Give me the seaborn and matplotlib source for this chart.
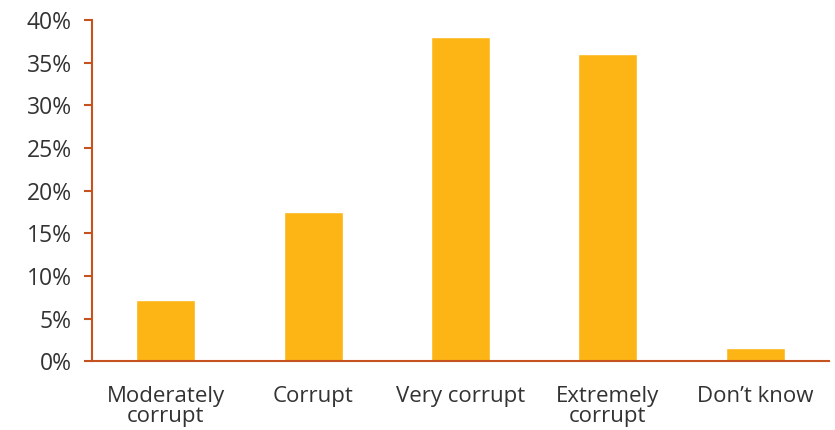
import pandas as pd
import matplotlib.pyplot as plt
import seaborn as sns
from matplotlib.ticker import FixedLocator

sns.set_style("white")
plt.rcParams['font.family'] = ['Open Sans', 'DejaVu Sans']

categories = ["Moderately\ncorrupt", "Corrupt", "Very corrupt", "Extremely\ncorrupt", "Don\u2019t know"]
shares = [7.2, 17.5, 38.0, 36.0, 1.5]
y_ticks = [0, 5, 10, 15, 20, 25, 30, 35, 40]
y_tick_labels = [f"{t}%" for t in y_ticks]

BAR = "#FDB515"
AXIS = "#C4531F"
TEXT = "#333333"

df = pd.DataFrame({"category": categories, "share": shares})

fig, ax = plt.subplots(figsize=(8.35, 4.3), dpi=100)
fig.subplots_adjust(left=0.110, right=0.993, top=0.953, bottom=0.160)

sns.barplot(data=df, x="category", y="share", color=BAR, width=0.4,
            saturation=1, ax=ax)

ax.set_xlim(-0.5, len(categories) - 0.5)
ax.set_ylim(0, 40)
ax.set_yticks(y_ticks)
ax.set_yticklabels(y_tick_labels)
ax.set_xlabel("")
ax.set_ylabel("")

# category boundary ticks
ax.xaxis.set_minor_locator(FixedLocator([i - 0.5 for i in range(len(categories) + 1)]))
ax.tick_params(axis="x", which="major", length=0, pad=18, labelsize=16,
               labelcolor=TEXT)
ax.tick_params(axis="x", which="minor", length=6.5, width=1.5, color=AXIS,
               direction="out")
ax.tick_params(axis="y", length=6, width=1.5, color=AXIS, pad=8.5,
               labelsize=16.5, labelcolor=TEXT, left=True)
for lbl in ax.get_xticklabels():
    lbl.set_linespacing(0.95)

for side in ["top", "right"]:
    ax.spines[side].set_visible(False)
for side in ["left", "bottom"]:
    ax.spines[side].set_color(AXIS)
    ax.spines[side].set_linewidth(1.5)

plt.savefig("out.png", dpi=100)
